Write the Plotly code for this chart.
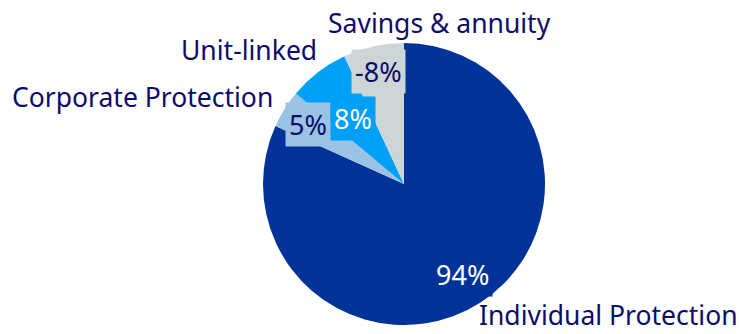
import math
import plotly.graph_objects as go

categories = ["Individual Protection", "Corporate Protection", "Unit-linked", "Savings & annuity"]
shares = [94, 5, 8, -8]
value_labels = ["94%", "5%", "8%", "-8%"]

colors = ["#003399", "#99C2E3", "#00A0F8", "#CDD6D6"]
value_font_colors = ["white", "#0C0C6B", "white", "#0C0C6B"]
label_radius_frac = [0.76, 0.80, 0.59, 0.82]
# (center x px, center y px); None -> anchored to bottom edge
cat_label_pos = [(608, None), (142, 97), (249, 50), (440, 23)]

W, H = 739, 334
CX, CY, R = 404, 184, 141
FONT = "Noto Sans"
NAVY = "#0C0C6B"
CAT_SIZE = 26.5
VAL_SIZE = 27

sizes = [abs(v) for v in shares]

fig = go.Figure(go.Pie(
    labels=categories,
    values=sizes,
    sort=False,
    direction="clockwise",
    rotation=0,
    marker=dict(colors=colors, line=dict(width=0)),
    textinfo="none",
    hoverinfo="label+value",
    showlegend=False,
    domain=dict(x=[(CX - R) / W, (CX + R) / W], y=[(H - CY - R) / H, (H - CY + R) / H]),
))

annotations = []
total = sum(sizes)
cum = 0
for i, s in enumerate(sizes):
    mid = (cum + s / 2) / total * 2 * math.pi
    cum += s
    rho = label_radius_frac[i] * R
    px = CX + rho * math.sin(mid)
    py = CY - rho * math.cos(mid)
    annotations.append(dict(
        x=px / W, y=1 - py / H, xref="paper", yref="paper",
        text=value_labels[i], showarrow=False,
        xanchor="center", yanchor="middle",
        font=dict(family=FONT, size=VAL_SIZE, color=value_font_colors[i]),
        bgcolor=colors[i], borderpad=3,
    ))

for name, (px, py) in zip(categories, cat_label_pos):
    if py is None:
        annotations.append(dict(
            x=px / W, y=0, xref="paper", yref="paper",
            text=name, showarrow=False,
            xanchor="center", yanchor="bottom",
            font=dict(family=FONT, size=CAT_SIZE, color=NAVY),
            borderpad=0,
        ))
    else:
        annotations.append(dict(
            x=px / W, y=1 - py / H, xref="paper", yref="paper",
            text=name, showarrow=False,
            xanchor="center", yanchor="middle",
            font=dict(family=FONT, size=CAT_SIZE, color=NAVY),
        ))

fig.update_layout(
    width=W, height=H,
    margin=dict(l=0, r=0, t=0, b=0),
    paper_bgcolor="white",
    plot_bgcolor="white",
    annotations=annotations,
)

fig.write_html("out.html")
